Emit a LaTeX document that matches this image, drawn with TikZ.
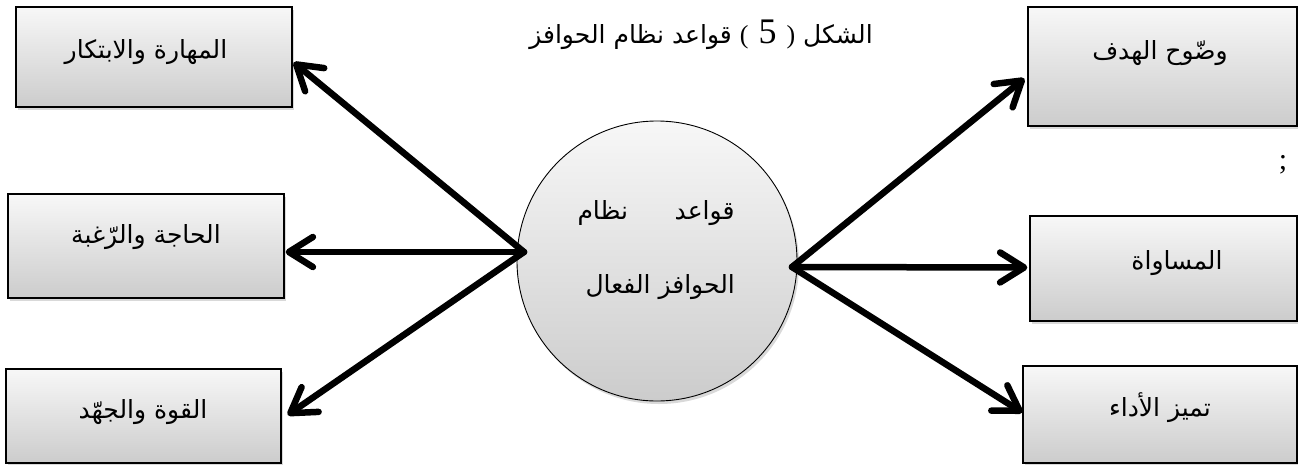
\documentclass[tikz,border=0pt]{standalone}
\usepackage{fontspec}
\setmainfont{Liberation Serif}
\newfontfamily\arabicfont[Script=Arabic]{DejaVu Sans}
\TeXXeTstate=1
\usetikzlibrary{shadows,arrows.meta,calc}
\begin{document}
\begin{tikzpicture}[x=1pt,y=-1pt,
  box/.style={draw=black, line width=1.3pt, top color=gray!6, bottom color=gray!40,
    drop shadow={shadow xshift=2pt, shadow yshift=-3pt, opacity=0.3}, inner sep=0pt},
  hub/.style={circle, draw=black, line width=0.9pt, top color=gray!6, bottom color=gray!40,
    drop shadow={shadow xshift=2pt, shadow yshift=-3pt, opacity=0.3}, inner sep=0pt, minimum size=280pt},
  lbl/.style={font=\arabicfont\fontsize{25}{28}\selectfont, inner sep=0pt},
  conn/.style={line width=6.5pt, line cap=round, line join=round,
    -{Straight Barb[length=24pt,width=30pt,line cap=round,line join=round]}}
]
\useasboundingbox (0,0) rectangle (1298,464);

% boxes
\node[box, minimum width=276pt, minimum height=100pt] (b1) at (154,57) {};
\node[box, minimum width=276pt, minimum height=104pt] (b2) at (146,246) {};
\node[box, minimum width=275pt, minimum height=94pt]  (b3) at (143.5,416) {};
\node[box, minimum width=269pt, minimum height=119pt] (b4) at (1162.5,66.5) {};
\node[box, minimum width=267pt, minimum height=105pt] (b5) at (1163.5,268.5) {};
\node[box, minimum width=274pt, minimum height=97pt]  (b6) at (1160,414.5) {};

% hub
\node[hub] (hub) at (657,261) {};

% labels
\node[lbl] (l1) at (146,52) {\beginR المهارة والابتكار\endR};
\node[lbl] (l2) at (146,237) {\beginR الحاجة والرّغبة\endR};
\node[lbl] (l3) at (143,412) {\beginR القوة والجهّد\endR};
\node[lbl] (l4) at (1160,53) {\beginR وضّوح الهدف\endR};
\node[lbl] (l5) at (1177,263) {\beginR المساواة\endR};
\node[lbl] (l6) at (1160,408) {\beginR تميز الأداء\endR};

\node[lbl] (h1) at (656,213) {\hbox to 157pt{\beginR قواعد\hfill نظام\endR}};
\node[lbl, anchor=east] (h2) at (735,287) {\beginR الحوافز الفعال\endR};

% title
\node[lbl] (title) at (701,35) {\beginR الشكل \beginL{\rmfamily\fontsize{26}{28}\selectfont(\hspace{10pt}{\fontsize{36}{36}\selectfont 5}\hspace{10pt})}\endL{} قواعد نظام الحوافز\endR};

% stray semicolon
\node[font=\fontsize{30}{32}\selectfont, inner sep=0pt] (semi) at (1283,165) {;};

% connectors
\coordinate (cl) at ($(hub.center)+(-133,-9)$);
\coordinate (cr) at ($(hub.center)+(135,6)$);
\coordinate (t1) at ($(b1.north east)+(1,56)$);
\coordinate (t2) at ($(b2.east)+(1,6)$);
\coordinate (t3) at ($(b3.east)+(6,-1)$);
\coordinate (t4) at ($(b4.west)+(-3,12)$);
\coordinate (t5) at ($(b5.west)+(-2,-1)$);
\coordinate (t6) at ($(b6.west)+(0,-2)$);

\draw[conn] (cl) -- (t1);
\draw[conn] (cl) -- (t2);
\draw[conn] (cl) -- (t3);
\draw[conn] (cr) -- (t4);
\draw[conn] (cr) -- (t5);
\draw[conn] (cr) -- (t6);
\end{tikzpicture}
\end{document}
